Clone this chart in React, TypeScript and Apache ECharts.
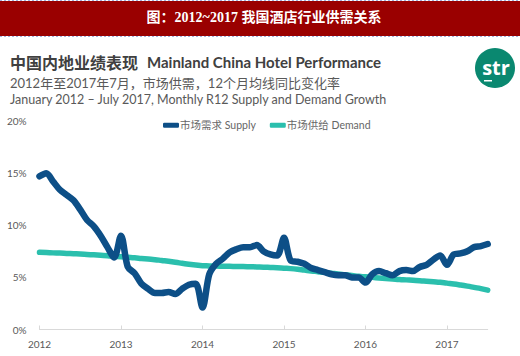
import React, { useEffect, useRef } from "react";
import * as echarts from "echarts";

const years = ["2012", "2013", "2014", "2015", "2016", "2017"];
const monthsInLastYear = 7;

const supply = [
  14.7, 15.0, 14.2, 13.4, 12.9, 12.4, 11.5, 10.5, 9.9, 9.0, 7.9, 6.9,
  9.0, 6.0, 5.4, 4.4, 3.9, 3.5, 3.5, 3.6, 3.4, 3.9, 4.3, 4.4,
  2.1, 5.3, 6.3, 6.8, 7.4, 7.7, 7.9, 7.9, 8.1, 7.5, 7.2, 7.1,
  8.8, 6.6, 6.5, 6.3, 5.9, 5.7, 5.5, 5.3, 5.2, 5.2, 5.0, 5.0,
  4.5, 5.3, 5.6, 5.4, 5.2, 5.6, 5.7, 5.6, 6.0, 6.2, 6.7, 7.1,
  6.2, 7.2, 7.3, 7.5, 7.9, 8.0, 8.2,
];

const demand = [
  7.4, 7.38, 7.35, 7.33, 7.3, 7.27, 7.24, 7.2, 7.16, 7.12, 7.08, 7.03,
  6.98, 6.93, 6.88, 6.82, 6.76, 6.7, 6.62, 6.54, 6.45, 6.35, 6.25, 6.18,
  6.12, 6.1, 6.08, 6.07, 6.06, 6.05, 6.04, 6.02, 6.0, 5.98, 5.95, 5.92,
  5.88, 5.84, 5.78, 5.7, 5.62, 5.55, 5.48, 5.4, 5.32, 5.25, 5.18, 5.1,
  5.05, 5.0, 4.95, 4.9, 4.85, 4.8, 4.76, 4.72, 4.68, 4.63, 4.58, 4.53,
  4.45, 4.37, 4.27, 4.16, 4.04, 3.92, 3.78,
];

const yTicks = [0, 5, 10, 15, 20];

const seriesNames = ["市场需求 Supply", "市场供给 Demand"];

const headerTitle = "图：2012~2017 我国酒店行业供需关系";
const chartTitle = "中国内地业绩表现";
const chartTitleEn = "Mainland China Hotel Performance";
const subtitle1 = "2012年至2017年7月，市场供需，12个月均线同比变化率";
const subtitle2 = "January 2012 – July 2017, Monthly R12 Supply and Demand Growth";

const categories: string[] = [];
years.forEach((y, i) => {
  const n = i === years.length - 1 ? monthsInLastYear : 12;
  for (let m = 1; m <= n; m++) categories.push(`${y}-${String(m).padStart(2, "0")}`);
});

const SANS = "Lato, 'Noto Sans CJK SC', sans-serif";

export default function App() {
  const ref = useRef<HTMLDivElement>(null);
  useEffect(() => {
    if (!ref.current) return;
    const chart = echarts.init(ref.current, null, { renderer: "svg" });
    chart.setOption({
      animation: false,
      backgroundColor: "#ffffff",
      grid: { left: 39.5, right: 32.3, top: 121, bottom: 26.5, containLabel: false },
      legend: {
        top: 115,
        left: 158,
        itemGap: 14,
        itemWidth: 16,
        itemHeight: 5,
        icon: "roundRect",
        textStyle: { fontFamily: SANS, fontSize: 10.5, color: "#666666", padding: [0, 0, 0, -4] },
        data: seriesNames,
      },
      xAxis: {
        type: "category",
        data: categories,
        boundaryGap: false,
        axisLine: { show: true, lineStyle: { color: "#d9d9d9", width: 1 } },
        axisTick: {
          show: true,
          inside: true,
          length: 4,
          interval: (i: number) => i % 12 === 0,
          lineStyle: { color: "#d9d9d9" },
        },
        axisLabel: {
          interval: (i: number) => i % 12 === 0,
          formatter: (v: string) => v.slice(0, 4),
          fontFamily: SANS,
          fontSize: 10,
          color: "#595959",
          margin: 9,
        },
        splitLine: { show: false },
      },
      yAxis: {
        type: "value",
        min: yTicks[0],
        max: yTicks[yTicks.length - 1],
        interval: 5,
        axisLine: { show: false },
        axisTick: { show: false },
        splitLine: { show: false },
        axisLabel: {
          formatter: "{value}%",
          fontFamily: SANS,
          fontSize: 10,
          color: "#595959",
          margin: 13,
        },
      },
      series: [
        {
          name: seriesNames[0],
          type: "line",
          data: supply,
          showSymbol: false,
          symbol: "none",
          smooth: 0.3,
          z: 3,
          lineStyle: { color: "#0d4f87", width: 6.5, cap: "round", join: "round" },
          itemStyle: { color: "#0d4f87" },
        },
        {
          name: seriesNames[1],
          type: "line",
          data: demand,
          showSymbol: false,
          symbol: "none",
          smooth: true,
          z: 2,
          lineStyle: { color: "#2bbfad", width: 5.5, cap: "round" },
          itemStyle: { color: "#2bbfad" },
        },
      ],
      graphic: [
        { type: "rect", shape: { x: 0, y: 1, width: 520, height: 35 }, style: { fill: "#9a0000" }, silent: true },
        { type: "line", shape: { x1: 0, y1: 0.5, x2: 520, y2: 0.5 }, style: { stroke: "#9fb4e0", lineWidth: 1, lineDash: [2, 2] } },
        { type: "line", shape: { x1: 0, y1: 36.5, x2: 520, y2: 36.5 }, style: { stroke: "#9fb4e0", lineWidth: 1, lineDash: [2, 2] } },
        {
          type: "text",
          x: 264,
          y: 17,
          style: {
            text: headerTitle,
            fill: "#ffffff",
            font: "bold 14px 'Liberation Serif', 'Noto Sans CJK SC', serif",
            align: "center",
            verticalAlign: "middle",
          },
        },
        {
          type: "text",
          x: 10,
          y: 62,
          style: {
            text: chartTitle,
            fill: "#404040",
            font: "bold 16px 'Noto Sans CJK SC', sans-serif",
            verticalAlign: "middle",
          },
        },
        {
          type: "text",
          x: 147,
          y: 62,
          style: {
            text: chartTitleEn,
            fill: "#404040",
            font: "bold 15px Lato, sans-serif",
            verticalAlign: "middle",
          },
        },
        {
          type: "text",
          x: 10,
          y: 83,
          style: {
            text: subtitle1,
            fill: "#595959",
            font: "13px Lato, 'Noto Sans CJK SC', sans-serif",
            verticalAlign: "middle",
          },
        },
        {
          type: "text",
          x: 10,
          y: 99.5,
          style: {
            text: subtitle2,
            fill: "#595959",
            font: "12.5px Lato, sans-serif",
            verticalAlign: "middle",
          },
        },
        { type: "circle", shape: { cx: 495, cy: 68, r: 20 }, style: { fill: "#0a8870" } },
        {
          type: "text",
          x: 496,
          y: 67,
          style: {
            text: "str",
            fill: "#ffffff",
            font: "bold 20px 'Open Sans', sans-serif",
            align: "center",
            verticalAlign: "middle",
          },
        },
        { type: "rect", shape: { x: 484, y: 80, width: 8, height: 1.5 }, style: { fill: "#ffffff" } },
      ],
    });
    return () => chart.dispose();
  }, []);
  return (
    <div
      ref={ref}
      style={{ position: "fixed", left: 0, top: 0, width: 520, height: 356, background: "#fff" }}
    />
  );
}
